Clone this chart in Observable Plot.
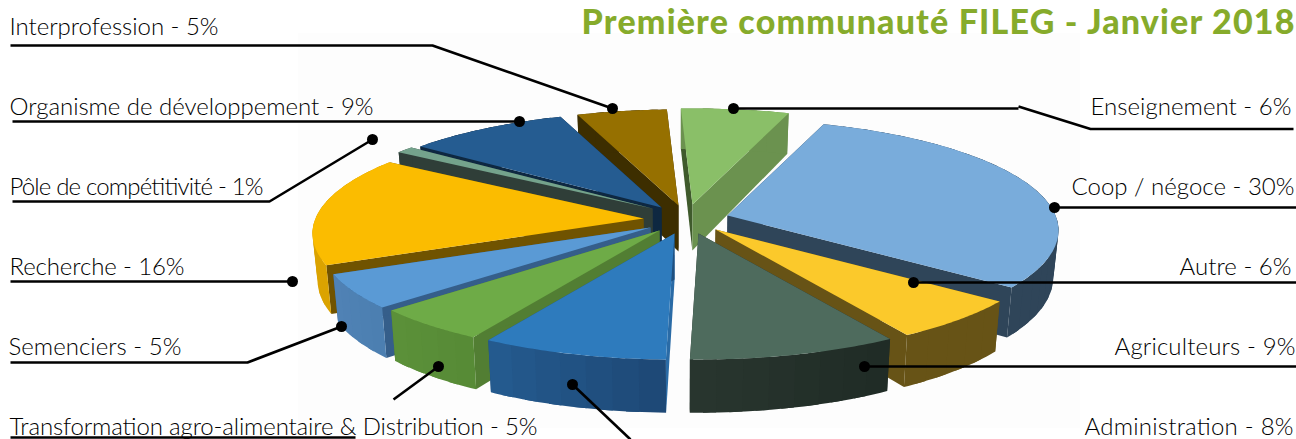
<!DOCTYPE html>
<html lang="fr">
<head>
<meta charset="utf-8">
<script src="https://cdn.jsdelivr.net/npm/d3@7"></script>
<script src="https://cdn.jsdelivr.net/npm/@observablehq/plot@0.6"></script>
<style>html,body{margin:0;padding:0;background:#fff}svg{display:block}</style>
</head>
<body>
<div id="chart"></div>
<script>
// ---- data ----
const categories = ["Enseignement","Coop / négoce","Autre","Agriculteurs","Administration","Transformation agro-alimentaire & Distribution","Semenciers","Recherche","Pôle de compétitivité","Organisme de développement","Interprofession"];
const shares = [6,30,6,9,8,5,5,16,1,9,5];
const titleText = "Première communauté FILEG - Janvier 2018";
// ---- colours ----
const topColors  = ["#8ABF68","#79ACDB","#FBC92B","#4E6B5D","#2E7BBD","#6EAB47","#5A9AD5","#FBBC00","#74A38C","#255C91","#967000"];
const startWall  = ["#3F5A2C","#2F4559","#675316","#212D27","#2A6BA6","#527E33","#355E8A","#705300","#2F3E38","#0E2841","#3D2E00"];
const endWall    = ["#6B924F","#2F4559","#675316","#212D27","#1F5080","#527E33","#355E8A","#705300","#2F3E38","#0E2841","#3D2E00"];
const outerFrom  = ["#6B924F","#2F4559","#675316","#1F2B25","#1D4875","#568A36","#4C7FB0","#DBA300","#2F3E38","#0E2841","#3D2E00"];
const outerTo    = ["#6B924F","#2F4559","#675316","#29362F","#245B90","#5B9139","#5082B6","#DBA300","#2F3E38","#0E2841","#3D2E00"];
// ---- layout of the exploded pie (slice tips, painter order, projection) ----
const tipX = [692,727,715,698,674,659,650,643,652,661,678];
const tipY = [204,215,229,233,233,230,227,218,208,207,205];
const paintOrder = [10,0,9,8,7,6,5,4,1,2,3];
const pieStart = -2.3, radiusX = 328, radiusY = 109, perspective = 0.135, depth = 46, depthShrink = 0.986, axisX = 680;
// ---- layout of labels (x, name, y, rendered width) and leaders ----
const labelLeft  = [[9,"Interprofession",26.5,209],[9,"Organisme de développement",106.5,364],[9,"Pôle de compétitivité",186.5,254],[9,"Recherche",266.5,175],[8,"Semenciers",346.5,173],[9,"Transformation agro-alimentaire & Distribution",426.5,528]];
const labelRight = [[1291,"Enseignement",106.5,201],[1294,"Coop / négoce",186.5,223],[1291,"Autre",266.5,112],[1295,"Agriculteurs",346.5,181],[1293,"Administration",426.5,209]];
const titleWidth = 713;
const leaders = [
  [[10,45],[432,45],[612,108]],
  [[12,121],[519,121]],
  [[12,201],[269,201],[372,139]],
  [[10,281],[292,281]],
  [[10,362],[247,362],[341,326]],
  [[10,437],[355,437]],
  [[393,399],[438,366]],
  [[572,384],[630,439]],
  [[864,366],[1296,366]],
  [[913,282],[1296,282]],
  [[1054,207],[1296,207]],
  [[733,108],[1018,108]],
  [[1018,106],[1090,128.5],[1293,128.5]]
];
const leaderDots = [[612,108],[519,121],[372,139],[292,281],[341,326],[438,366],[572,384],[864,366],[913,282],[1054,207],[733,108]];

// ---- geometry from the shares ----
const deg = Math.PI / 180;
const arcs = d3.pie().sort(null).startAngle(pieStart * deg).endAngle((pieStart + 360) * deg)(shares);
function topPoint(i, a) {
  const X = Math.sin(a), Y = Math.cos(a), p = 1 / (1 + perspective * Y);
  return {x: tipX[i] + radiusX * X * p, y: tipY[i] - radiusY * Y * p, p};
}
function bottomPoint(i, a) {
  const t = topPoint(i, a);
  return {x: axisX + (t.x - axisX) * depthShrink, y: t.y + depth * t.p};
}
const tipBottom = i => ({x: axisX + (tipX[i] - axisX) * depthShrink, y: tipY[i] + depth});
const faces = [];
let faceId = 0;
function addFace(points, color) {
  const id = faceId++;
  for (const q of [...points, points[0]]) faces.push({x: q.x, y: q.y, id, color});
}
for (const i of paintOrder) {
  const {startAngle: a0, endAngle: a1} = arcs[i];
  const tip = {x: tipX[i], y: tipY[i]};
  addFace([tip, topPoint(i, a0), bottomPoint(i, a0), tipBottom(i)], startWall[i]);
  addFace([tip, topPoint(i, a1), bottomPoint(i, a1), tipBottom(i)], endWall[i]);
  const mix = d3.interpolateRgb(outerFrom[i], outerTo[i]);
  // the wall is swept in overlapping facets: its silhouette stays straight at the sides, with no white seam
  const n = Math.max(1, Math.round((a1 - a0) / (4 * deg)));
  const step = (a1 - a0) / n;
  for (let k = 0; k < n; k++) {
    const b0 = a0 + step * k, b1 = Math.min(a1, b0 + step * 1.5);
    const pts = d3.range(6).map(j => b0 + (b1 - b0) * j / 5);
    addFace([...pts.map(a => topPoint(i, a)), ...pts.slice().reverse().map(a => bottomPoint(i, a))], mix((k + .5) / n));
  }
  const rim = d3.range(41).map(k => topPoint(i, a0 + (a1 - a0) * k / 40));
  addFace([tip, ...rim], topColors[i]);
}
const leaderRows = leaders.flatMap((l, id) => l.map(([x, y]) => ({x, y, id})));
const shareOf = name => shares[categories.indexOf(name)];
const labelRows = a => a.map(([x, name, y, w]) => ({x, y, w, text: `${name} - ${shareOf(name)}%`}));

const font = "Lato";
const plot = Plot.plot({
  width: 1296, height: 439, margin: 0,
  style: {background: "#fff", fontFamily: font},
  x: {domain: [0, 1296], range: [0, 1296], axis: null},
  y: {domain: [0, 439], range: [0, 439], axis: null},
  color: {type: "identity"},
  marks: [
    Plot.rect([{a: 298, b: 1080, c: 33, d: 428}], {x1: "a", x2: "b", y1: "c", y2: "d", fill: "#FDFDFD"}),
    Plot.line(faces, {x: "x", y: "y", z: "id", fill: "color", stroke: "none"}),
    Plot.line(leaderRows, {x: "x", y: "y", z: "id", stroke: "#000", strokeWidth: 2.6, strokeLinejoin: "miter", strokeLinecap: "butt"}),
    Plot.dot(leaderDots, {x: d => d[0], y: d => d[1], r: 5.5, fill: "#000", stroke: "none"}),
    Plot.text(labelRows(labelLeft), {x: "x", y: "y", text: "text", textAnchor: "start", fill: "#000", fontSize: 24, fontWeight: 300}),
    Plot.text(labelRows(labelRight), {x: "x", y: "y", text: "text", textAnchor: "end", fill: "#000", fontSize: 24, fontWeight: 300}),
    Plot.text([titleText], {x: 1294, y: 22.5, text: d => d, textAnchor: "end", fill: "#86AB2B", fontSize: 34, fontWeight: 900})
  ]
});
// The reference's face differs from Lato: fit each text to the width it has there.
const widths = new Map([...labelRows(labelLeft), ...labelRows(labelRight)].map(d => [d.text, d.w]));
widths.set(titleText, titleWidth);
d3.select(plot).selectAll("text").each(function () {
  const w = widths.get(this.textContent);
  if (w) d3.select(this).attr("textLength", w).attr("lengthAdjust", "spacing");
});
document.getElementById("chart").appendChild(plot);
</script>
</body>
</html>
